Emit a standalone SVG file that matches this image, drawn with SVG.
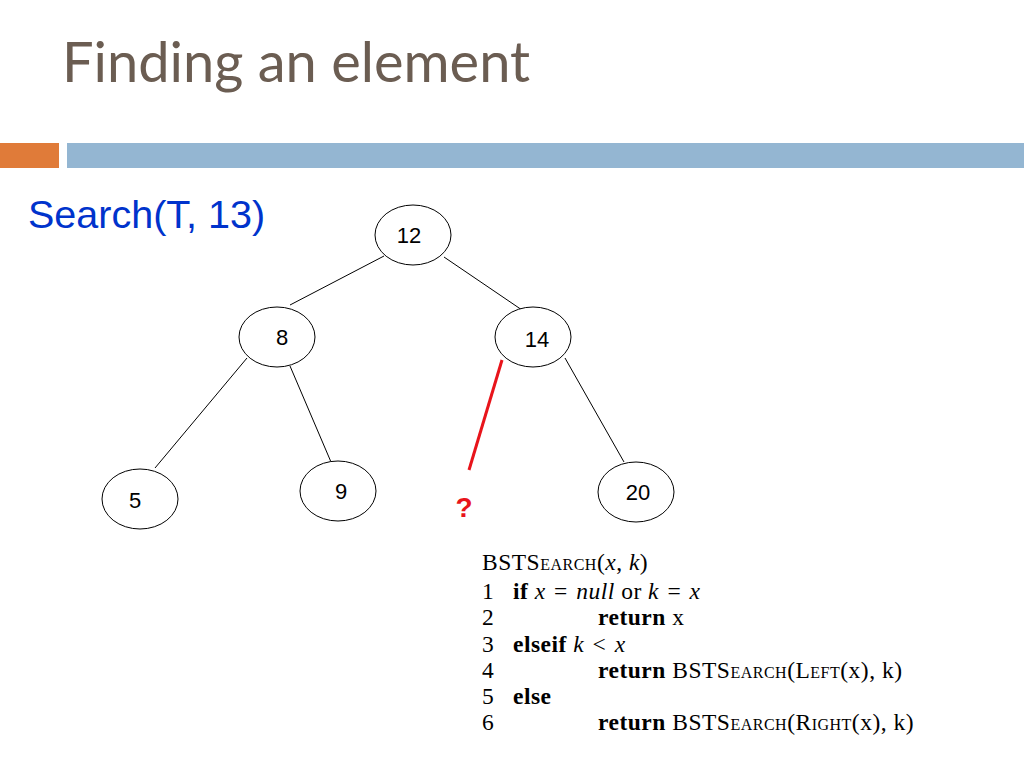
<svg xmlns="http://www.w3.org/2000/svg" width="1024" height="768" viewBox="0 0 1024 768">
<style>
.n ellipse{fill:#fff;stroke:#000;stroke-width:1}
.n text{font-family:"Liberation Sans",Arial,sans-serif;font-size:22px;text-anchor:middle;fill:#000}
.c line{stroke:#000;stroke-width:1}
.p{font-family:"Liberation Serif","Times New Roman",serif;font-size:23.5px;fill:#000;letter-spacing:0.5px}
.b{font-weight:bold}
.sc{font-variant:small-caps}
</style>
<rect width="1024" height="768" fill="#fff"/>
<text x="62" y="82" font-family="Lato,'Open Sans',sans-serif" font-size="56" fill="#6b5d52">Finding an element</text>
<rect x="0" y="143" width="59" height="25" fill="#e07b39"/>
<rect x="67" y="143" width="957" height="25" fill="#94b6d2"/>
<text x="28" y="228" font-family="'Liberation Sans',Arial,sans-serif" font-size="39.5" fill="#0033cc">Search(T, 13)</text>
<g class="c">
<line x1="384" y1="256" x2="290" y2="305"/>
<line x1="444" y1="257" x2="522" y2="310"/>
<line x1="247" y1="358" x2="155" y2="468"/>
<line x1="290" y1="366" x2="331" y2="462"/>
<line x1="565" y1="358" x2="624" y2="462"/>
<line x1="502" y1="360" x2="469" y2="470" style="stroke:#e8141b;stroke-width:3"/>
</g>
<g id="n12" class="n"><ellipse cx="413" cy="235" rx="38" ry="30"/><text x="409" y="243">12</text></g>
<g id="n8" class="n"><ellipse cx="277" cy="337" rx="38" ry="30"/><text x="282" y="345">8</text></g>
<g id="n14" class="n"><ellipse cx="533" cy="337" rx="38" ry="30"/><text x="537" y="347">14</text></g>
<g id="n5" class="n"><ellipse cx="140" cy="499" rx="38" ry="30"/><text x="135" y="508">5</text></g>
<g id="n9" class="n"><ellipse cx="338" cy="491" rx="38" ry="30"/><text x="341" y="499">9</text></g>
<g id="n20" class="n"><ellipse cx="636" cy="492" rx="38" ry="30"/><text x="638" y="500">20</text></g>
<text x="464" y="517" text-anchor="middle" font-family="'Liberation Sans',Arial,sans-serif" font-size="28" font-weight="bold" fill="#e8141b">?</text>
<g class="p">
<text x="482" y="570">BST<tspan class="sc">Search</tspan>(<tspan font-style="italic">x</tspan>, <tspan font-style="italic">k</tspan>)</text>
<text x="482" y="599">1<tspan x="513" class="b">if</tspan> <tspan font-style="italic">x</tspan> <tspan dx="2">=</tspan> <tspan font-style="italic" dx="2">null</tspan> or <tspan font-style="italic">k</tspan> <tspan dx="2">=</tspan> <tspan font-style="italic" dx="2">x</tspan></text>
<text x="482" y="625">2<tspan x="598" class="b">return</tspan> x</text>
<text x="482" y="652">3<tspan x="513" class="b">elseif</tspan> <tspan font-style="italic">k</tspan> <tspan dx="2">&lt;</tspan> <tspan font-style="italic" dx="2">x</tspan></text>
<text x="482" y="678">4<tspan x="598" class="b">return</tspan> BST<tspan class="sc">Search</tspan>(<tspan class="sc">Left</tspan>(x), k)</text>
<text x="482" y="704">5<tspan x="513" class="b">else</tspan></text>
<text x="482" y="730">6<tspan x="598" class="b">return</tspan> BST<tspan class="sc">Search</tspan>(<tspan class="sc">Right</tspan>(x), k)</text>
</g>
</svg>
